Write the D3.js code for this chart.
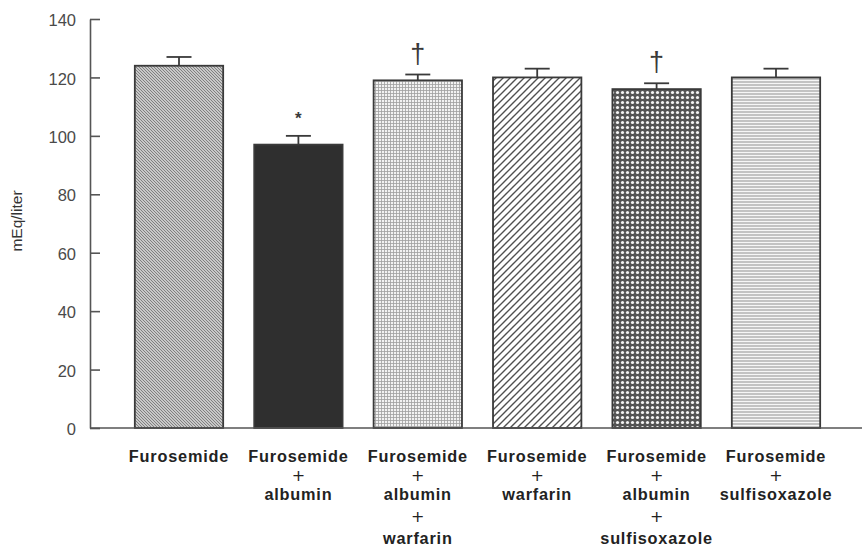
<!DOCTYPE html>
<html>
<head>
<meta charset="utf-8">
<script src="https://cdn.jsdelivr.net/npm/d3@7"></script>
<style>
  html, body { margin: 0; padding: 0; background: #fff; }
  svg { display: block; }
</style>
</head>
<body>
<svg id="chart" width="862" height="547"></svg>
<script>
// Urinary sodium (mEq/liter) for each treatment group
const groups = [
  ["Furosemide"],
  ["Furosemide", "+", "albumin"],
  ["Furosemide", "+", "albumin", "+", "warfarin"],
  ["Furosemide", "+", "warfarin"],
  ["Furosemide", "+", "albumin", "+", "sulfisoxazole"],
  ["Furosemide", "+", "sulfisoxazole"]
];
const means = [124, 97, 119, 120, 116, 120];
const sem = [3, 3, 2, 3, 2, 3];
const significance = ["", "*", "\u2020", "", "\u2020", ""];
const yTicks = [0, 20, 40, 60, 80, 100, 120, 140];
const yLabel = "mEq/liter";

const svg = d3.select("#chart");
const ink = "#3a3a3a";
const font = "Liberation Sans, Arial, sans-serif";

// Fill patterns, one per bar
const defs = svg.append("defs");
const fills = [];

// 1: fine back-slash hatching
{
  const p = defs.append("pattern").attr("id", "p0").attr("patternUnits", "userSpaceOnUse")
    .attr("width", 3).attr("height", 3);
  p.append("rect").attr("width", 3).attr("height", 3).attr("fill", "#c8c8c8");
  p.append("path").attr("d", "M-1,-1 L4,4 M-1,2 L1,4 M2,-1 L4,1").attr("stroke", "#808080").attr("stroke-width", 1);
  fills.push("url(#p0)");
}
// 2: solid dark
fills.push("#2f2f2f");
// 3: fine grid
{
  const p = defs.append("pattern").attr("id", "p2").attr("patternUnits", "userSpaceOnUse")
    .attr("width", 3).attr("height", 3);
  p.append("rect").attr("width", 3).attr("height", 3).attr("fill", "#f2f2f2");
  p.append("path").attr("d", "M0,0.5 H3 M0.5,0 V3").attr("stroke", "#a0a0a0").attr("stroke-width", 0.8);
  fills.push("url(#p2)");
}
// 4: wide forward-slash hatching
{
  const s = 7;
  const p = defs.append("pattern").attr("id", "p3").attr("patternUnits", "userSpaceOnUse")
    .attr("width", s).attr("height", s);
  p.append("rect").attr("width", s).attr("height", s).attr("fill", "#fff");
  p.append("path").attr("d", `M-1,${s + 1} L${s + 1},-1 M-1,1 L1,-1 M${s - 1},${s + 1} L${s + 1},${s - 1}`)
    .attr("stroke", "#505050").attr("stroke-width", 1.4);
  fills.push("url(#p3)");
}
// 5: dark cross-hatch with light holes
{
  const s = 5;
  const p = defs.append("pattern").attr("id", "p4").attr("patternUnits", "userSpaceOnUse")
    .attr("width", s).attr("height", s);
  p.append("rect").attr("width", s).attr("height", s).attr("fill", "#555");
  p.append("circle").attr("cx", 2.5).attr("cy", 2.5).attr("r", 1.6).attr("fill", "#f4f4f4");
  fills.push("url(#p4)");
}
// 6: horizontal lines
{
  const p = defs.append("pattern").attr("id", "p5").attr("patternUnits", "userSpaceOnUse")
    .attr("width", 4).attr("height", 3);
  p.append("rect").attr("width", 4).attr("height", 3).attr("fill", "#f6f6f6");
  p.append("path").attr("d", "M0,1 H4").attr("stroke", "#909090").attr("stroke-width", 1);
  fills.push("url(#p5)");
}

const x = d3.scaleBand()
  .domain(d3.range(groups.length))
  .range([119.3, 835.7])
  .paddingInner(0.26)
  .paddingOuter(0.13);

const y = d3.scaleLinear().domain([0, 140]).range([428, 19]);

// Y axis: ticks point inward, labels on the left
const yAxis = svg.append("g")
  .attr("transform", "translate(90,0)")
  .call(d3.axisLeft(y).tickValues(yTicks).tickSizeInner(-10).tickSizeOuter(0).tickPadding(14));
yAxis.select(".domain").attr("stroke", "#555").attr("stroke-width", 1.6);
yAxis.selectAll(".tick line").attr("stroke", "#555").attr("stroke-width", 1.6);
yAxis.selectAll(".tick text")
  .attr("font-family", font)
  .attr("font-size", 16.5).attr("fill", "#4a4a4a").attr("dy", "0.4em");

svg.append("text")
  .attr("transform", "translate(22,221) rotate(-90)")
  .attr("text-anchor", "middle")
  .attr("font-family", font)
  .attr("font-size", 15.5).attr("fill", "#333")
  .text(yLabel);

// Bars
svg.append("g").selectAll("rect")
  .data(means)
  .join("rect")
  .attr("x", (d, i) => x(i))
  .attr("y", d => y(d))
  .attr("width", x.bandwidth())
  .attr("height", d => y(0) - y(d))
  .attr("fill", (d, i) => fills[i])
  .attr("stroke", ink)
  .attr("stroke-width", 1.8);

// Error bars (upper only)
const eb = svg.append("g").attr("stroke", ink).attr("stroke-width", 1.8);
means.forEach((m, i) => {
  const cx = x(i) + x.bandwidth() / 2;
  eb.append("line").attr("x1", cx).attr("x2", cx).attr("y1", y(m)).attr("y2", y(m + sem[i]));
  eb.append("line").attr("x1", cx - 12.5).attr("x2", cx + 12.5).attr("y1", y(m + sem[i])).attr("y2", y(m + sem[i]));
});

// Significance marks
svg.append("g").selectAll("text")
  .data(means)
  .join("text")
  .attr("x", (d, i) => x(i) + x.bandwidth() / 2)
  .attr("y", (d, i) => y(d + sem[i]) - 12)
  .attr("text-anchor", "middle")
  .attr("font-family", font)
  .attr("font-weight", (d, i) => significance[i] === "*" ? "bold" : "normal")
  .attr("font-size", (d, i) => significance[i] === "*" ? 17 : 27)
  .attr("fill", ink)
  .text((d, i) => significance[i]);

// X axis baseline extends across the full width
svg.append("line")
  .attr("x1", 90).attr("x2", 862).attr("y1", y(0)).attr("y2", y(0))
  .attr("stroke", "#555").attr("stroke-width", 1.6);

// Category labels, one text per stacked line
const lineOffsets = [34, 53, 72, 94, 115.5];
const xAxis = svg.append("g")
  .attr("transform", `translate(0,${y(0)})`)
  .call(d3.axisBottom(x).tickSize(0).tickFormat(""));
xAxis.select(".domain").remove();
xAxis.selectAll(".tick").each(function(i) {
  d3.select(this).selectAll("text.cat")
    .data(groups[i])
    .join("text")
    .attr("class", "cat")
    .attr("x", 0)
    .attr("y", (d, k) => lineOffsets[k])
    .attr("text-anchor", "middle")
    .attr("font-family", d => d === "+" ? "DejaVu Sans, sans-serif" : font)
    .attr("font-size", d => d === "+" ? 16 : 16.3)
    .attr("font-weight", d => d === "+" ? "normal" : "bold")
    .attr("letter-spacing", d => d === "+" ? 0 : 0.8)
    .attr("fill", "#222")
    .text(d => d);
});
</script>
</body>
</html>
